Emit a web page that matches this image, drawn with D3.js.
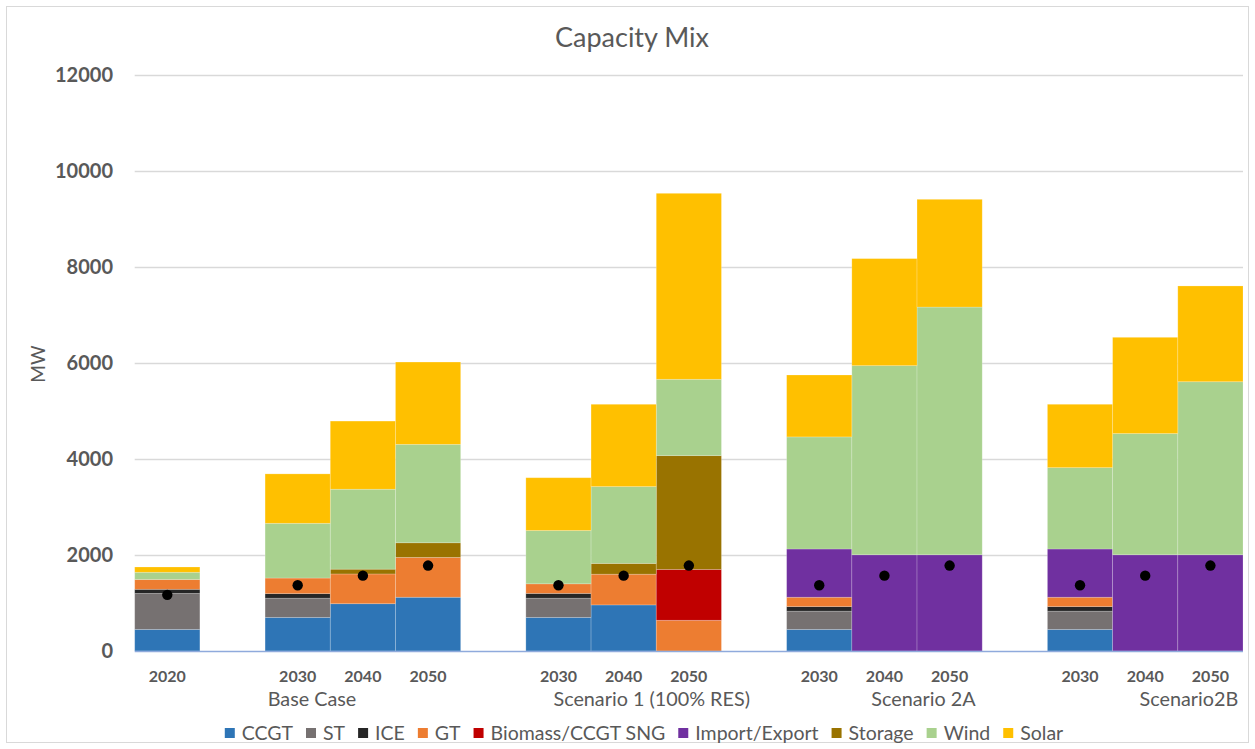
<!DOCTYPE html>
<html>
<head>
<meta charset="utf-8">
<script src="https://cdn.jsdelivr.net/npm/d3@7"></script>
<style>
  html, body { margin: 0; padding: 0; background: #fff; }
  svg { display: block; font-family: Lato, "Open Sans", sans-serif; }
</style>
</head>
<body>
<svg id="chart" width="1255" height="749"></svg>
<script>
// Category slots along the x axis (empty strings are spacer columns between scenarios)
const yearLabels = ["2020", "", "2030", "2040", "2050", "", "2030", "2040", "2050", "", "2030", "2040", "2050", "", "2030", "2040", "2050"];

// Scenario captions: name, slot it hangs from, and fractional offset within that slot
const groupNames = ["Base Case", "Scenario 1 (100% RES)", "Scenario 2A", "Scenario2B"];
const groupSlots = [2, 7, 12, 16];
const groupShift = [0.72, 0.93, 0.10, 0.17];

// Installed capacity by technology (MW)
const CCGT    = [450, 0, 700, 985, 1120, 0, 700, 960, 0,    0, 450, 0, 0, 0, 450, 0, 0];
const ST      = [750, 0, 400, 0, 0,    0, 400, 0, 0,      0, 380, 0, 0, 0, 380, 0, 0];
const ICE     = [85,  0, 95, 0, 0,     0, 100, 0, 0,      0, 95, 0, 0,  0, 95, 0, 0];
const GT      = [205, 0, 325, 620, 830, 0, 200, 640, 640, 0, 195, 0, 0, 0, 195, 0, 0];
const Biomass = [0,   0, 0, 0, 0,      0, 0, 0, 1060,     0, 0, 0, 0,   0, 0, 0, 0];
const Import  = [0,   0, 0, 0, 0,      0, 0, 0, 0,        0, 1005, 2005, 2005, 0, 1005, 2005, 2005];
const Storage = [0,   0, 0, 100, 305,  0, 0, 225, 2370,   0, 0, 0, 0,   0, 0, 0, 0];
const Wind    = [150, 0, 1140, 1665, 2050, 0, 1110, 1600, 1590, 0, 2335, 3940, 5160, 0, 1695, 2525, 3605];
const Solar   = [110, 0, 1030, 1420, 1715, 0, 1100, 1715, 3875, 0, 1290, 2230, 2245, 0, 1320, 2005, 1995];

// Peak demand markers (MW)
const Peak = [1170, null, 1370, 1570, 1780, null, 1370, 1570, 1780, null, 1370, 1570, 1780, null, 1370, 1570, 1780];

const seriesNames = ["CCGT", "ST", "ICE", "GT", "Biomass/CCGT SNG", "Import/Export", "Storage", "Wind", "Solar"];
const seriesValues = [CCGT, ST, ICE, GT, Biomass, Import, Storage, Wind, Solar];
const seriesColors = ["#2e75b6", "#767171", "#262626", "#ed7d31", "#c00000", "#7030a0", "#997300", "#a9d18e", "#ffc000"];

const yTicks = [0, 2000, 4000, 6000, 8000, 10000, 12000];

const svg = d3.select("#chart");
const textColor = "#595959";

// outer chart frame
svg.append("rect")
  .attr("x", 6.5).attr("y", 6.5).attr("width", 1242).attr("height", 736)
  .attr("fill", "#fff").attr("stroke", "#d9d9d9").attr("stroke-width", 1);

const slots = d3.range(yearLabels.length);
const x = d3.scaleBand().domain(slots).range([134.7, 1243]).padding(0);
const y = d3.scaleLinear().domain([0, 12000]).range([651, 75]);

// gridlines
svg.append("g")
  .selectAll("line")
  .data(yTicks.filter(t => t > 0))
  .join("line")
  .attr("x1", x.range()[0]).attr("x2", x.range()[1])
  .attr("y1", d => Math.round(y(d)) + 0.5).attr("y2", d => Math.round(y(d)) + 0.5)
  .attr("stroke", "#d9d9d9").attr("stroke-width", 1.3);

// y axis labels (no axis line)
const yAxis = d3.axisLeft(y).tickValues(yTicks).tickSize(0).tickPadding(0).tickFormat(d3.format("d"));
const yG = svg.append("g").attr("transform", "translate(113,0)").call(yAxis);
yG.select(".domain").remove();
yG.selectAll("text")
  .attr("fill", textColor)
  .style("font-family", "Lato, sans-serif")
  .style("font-weight", "bold")
  .style("font-size", "20px");

// stacked bars
const table = slots.map(i => {
  const row = { slot: i };
  seriesNames.forEach((n, k) => { row[n] = seriesValues[k][i] || 0; });
  return row;
});
const stacked = d3.stack().keys(seriesNames)(table);

svg.append("g")
  .selectAll("g")
  .data(stacked)
  .join("g")
  .attr("fill", (d, k) => seriesColors[k])
  .selectAll("rect")
  .data(d => d.filter(p => p[1] - p[0] > 0))
  .join("rect")
  .attr("x", p => x(p.data.slot))
  .attr("width", x.bandwidth())
  .attr("y", p => y(p[1]))
  .attr("height", p => y(p[0]) - y(p[1]))
  .attr("stroke", "#ffffff").attr("stroke-opacity", 0.25).attr("stroke-width", 0.8);

// category axis baseline
svg.append("line")
  .attr("x1", x.range()[0]).attr("x2", x.range()[1])
  .attr("y1", y(0) + 0.5).attr("y2", y(0) + 0.5)
  .attr("stroke", "#8faadc").attr("stroke-width", 1.5);

// peak demand dots
svg.append("g")
  .selectAll("circle")
  .data(slots.filter(i => Peak[i] != null))
  .join("circle")
  .attr("cx", i => x(i) + x.bandwidth() / 2)
  .attr("cy", i => y(Peak[i]))
  .attr("r", 5.2)
  .attr("fill", "#000");

// year labels
svg.append("g")
  .selectAll("text")
  .data(slots.filter(i => yearLabels[i] !== ""))
  .join("text")
  .attr("x", i => x(i) + x.bandwidth() / 2)
  .attr("y", 682)
  .attr("text-anchor", "middle")
  .attr("fill", textColor)
  .style("font-weight", "bold")
  .style("font-size", "16px")
  .text(i => yearLabels[i]);

// scenario captions
svg.append("g")
  .selectAll("text")
  .data(groupNames)
  .join("text")
  .attr("x", (d, k) => x(groupSlots[k]) + groupShift[k] * x.bandwidth())
  .attr("y", 706)
  .attr("text-anchor", "middle")
  .attr("fill", textColor)
  .style("font-size", "19.8px")
  .text(d => d);

// title
svg.append("text")
  .attr("x", 632).attr("y", 47)
  .attr("text-anchor", "middle")
  .attr("fill", textColor)
  .style("font-size", "27px")
  .text("Capacity Mix");

// y axis title
svg.append("text")
  .attr("transform", "translate(45,364) rotate(-90)")
  .attr("text-anchor", "middle")
  .attr("fill", textColor)
  .style("font-size", "19px")
  .text("MW");

// legend
const legend = svg.append("g");
const items = legend.selectAll("g").data(seriesNames).join("g");
items.append("rect")
  .attr("width", 10).attr("height", 10)
  .attr("y", -5)
  .attr("fill", (d, k) => seriesColors[k]);
items.append("text")
  .attr("x", 17).attr("y", 6.5)
  .attr("fill", textColor)
  .style("font-size", "19.5px")
  .text(d => d);
let cursor = 0;
const itemGap = 13;
items.each(function () {
  const g = d3.select(this);
  g.attr("transform", `translate(${cursor},0)`);
  cursor += 17 + g.select("text").node().getComputedTextLength() + itemGap;
});
const legendWidth = cursor - itemGap;
legend.attr("transform", `translate(${644 - legendWidth / 2},733)`);
</script>
</body>
</html>
